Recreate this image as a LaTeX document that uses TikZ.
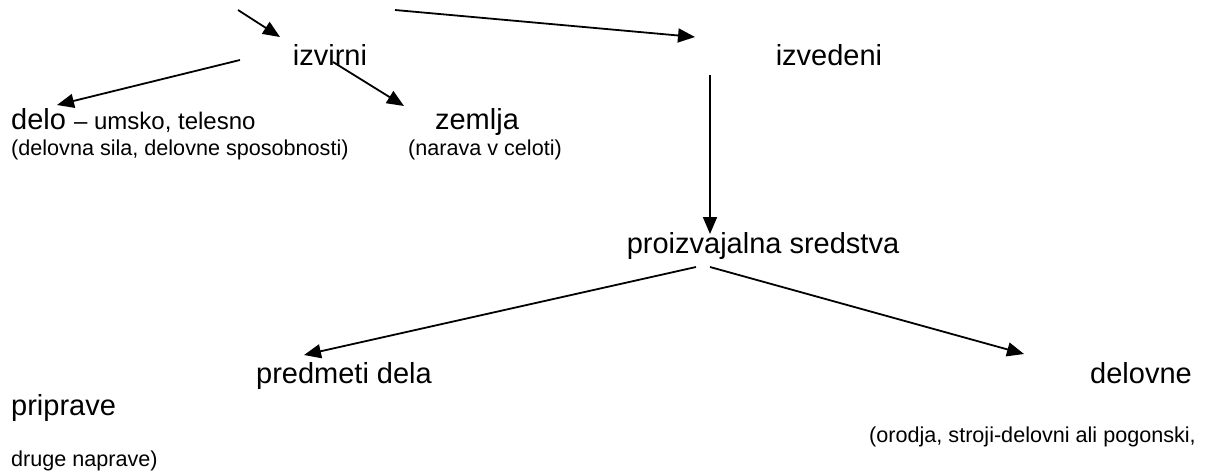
\documentclass[tikz,border=0pt]{standalone}
\usepackage{fontspec}
\setmainfont{Liberation Sans}
\usetikzlibrary{arrows.meta}
\newcommand{\bigtxt}{\fontsize{29}{34}\selectfont}
\newcommand{\smalltxt}{\fontsize{21.6}{26}\selectfont}
\newcommand{\midtxt}{\fontsize{24}{28}\selectfont}
\begin{document}
\begin{tikzpicture}[x=1pt,y=-1pt]
\tikzstyle{naslov}=[inner sep=0, anchor=base, font=\bigtxt]
\tikzstyle{opis}=[inner sep=0, anchor=base, font=\smalltxt]
\tikzstyle{puscica}=[line width=1.8pt, -{Triangle[length=17pt,width=14pt]}]
\useasboundingbox (0,0) rectangle (1205,474);
% prva vrsta
\node[naslov] (izvirni) at (330,65) {izvirni};
\node[naslov] (izvedeni) at (829,65) {izvedeni};
% druga vrsta
\node[naslov, anchor=base west] (delo) at (11,129) {delo {\midtxt -- umsko, telesno}};
\node[opis, anchor=base west] (delosila) at (11,155) {(delovna sila, delovne sposobnosti)};
\node[naslov] (zemlja) at (477,129) {zemlja};
\node[opis] (narava) at (485,155) {(narava v celoti)};
% tretja vrsta
\node[naslov] (sredstva) at (763,253) {proizvajalna sredstva};
\node[naslov] (predmeti) at (344,383) {predmeti dela};
\node[naslov, anchor=base east] (delovne) at (1192,383) {delovne};
\node[naslov, anchor=base west] (priprave) at (11,415) {priprave};
\node[opis, anchor=base east] (orodja) at (1196,442) {(orodja, stroji-delovni ali pogonski,};
\node[opis, anchor=base west] (naprave) at (11,466) {druge naprave)};
% konci puscic
\coordinate (zgorajL) at (238,10);
\coordinate (zgorajD) at (395,10);
\coordinate (izvirniK) at (280,37);
\coordinate (izvedeniK) at (695,37);
\coordinate (izvirniL) at (240,60);
\coordinate (izvirniD) at (333,62);
\coordinate (deloK) at (57,105);
\coordinate (zemljaK) at (404,106);
\coordinate (izvedeniS) at (710,75);
\coordinate (sredstvaK) at (710,234);
\coordinate (sredstvaL) at (696,267);
\coordinate (sredstvaD) at (710,267);
\coordinate (predmetiK) at (304,355);
\coordinate (delovneK) at (1024,354);
\draw[puscica](zgorajL)--(izvirniK);
\draw[puscica](zgorajD)--(izvedeniK);
\draw[puscica](izvirniL)--(deloK);
\draw[puscica](izvirniD)--(zemljaK);
\draw[puscica](izvedeniS)--(sredstvaK);
\draw[puscica](sredstvaL)--(predmetiK);
\draw[puscica](sredstvaD)--(delovneK);
\end{tikzpicture}
\end{document}
